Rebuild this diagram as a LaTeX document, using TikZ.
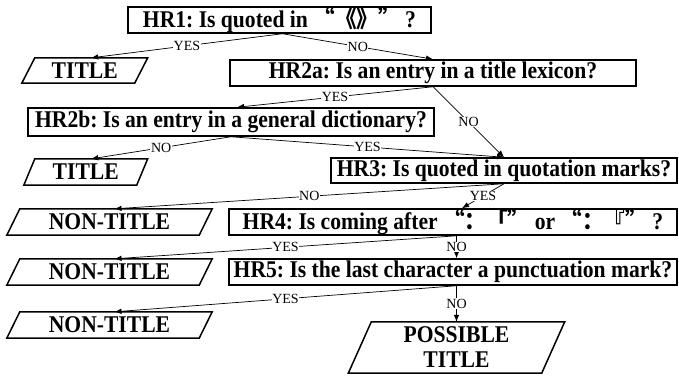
\documentclass[tikz,border=0pt]{standalone}
\usepackage{fontspec}
\setmainfont{Liberation Serif}[FakeStretch=0.9]
\newfontfamily\lblfont{Liberation Serif}
\newfontfamily\cjk{Noto Sans CJK SC}[FakeStretch=0.9]
\usetikzlibrary{arrows.meta,calc}
\frenchspacing
\newcommand\drawpara[2]{\draw[line width=1.5pt] ($(#1.north west)+(#2,0)$) -- ($(#1.north east)+(#2,0)$) -- ($(#1.south east)-(#2,0)$) -- ($(#1.south west)-(#2,0)$) -- cycle;}
\begin{document}
\begin{tikzpicture}[x=1pt,y=-1pt,
  qbox/.style={draw,line width=1.5pt,inner sep=0pt,font=\bfseries\fontsize{24}{26}\selectfont},
  outbox/.style={inner sep=0pt,font=\bfseries\fontsize{24}{25}\selectfont,align=center},
  lbl/.style={fill=white,inner sep=0.6pt,font=\lblfont\fontsize{14}{14}\selectfont},
  arr/.style={-{Latex[length=7pt,width=5.5pt]},line width=0.7pt}]
\useasboundingbox (0,0) rectangle (679,375);
% decision boxes
\node[qbox,minimum width=303pt,minimum height=26pt] (HR1) at (279.5,20) {HR1: Is quoted in {\cjk “《》”} ?};
\node[qbox,minimum width=406pt,minimum height=26pt] (HR2a) at (433,73) {HR2a: Is an entry in a title lexicon?};
\node[qbox,minimum width=406pt,minimum height=28pt] (HR2b) at (231,122) {HR2b: Is an entry in a general dictionary?};
\node[qbox,minimum width=346pt,minimum height=25pt] (HR3) at (504,170.5) {HR3: Is quoted in quotation marks?};
\node[qbox,minimum width=448pt,minimum height=24pt] (HR4) at (453,222) {HR4: Is coming after {\cjk “：「”} or {\cjk “：『”} ?};
\node[qbox,minimum width=448pt,minimum height=26pt] (HR5) at (453,272) {HR5: Is the last character a punctuation mark?};
% outcome parallelograms
\node[outbox,minimum width=112.5pt,minimum height=25pt] (T1) at (84.75,70.5) {TITLE};
\node[outbox,minimum width=112.5pt,minimum height=26pt] (T2) at (85.75,172) {TITLE};
\node[outbox,minimum width=192pt,minimum height=26pt] (N1) at (109.5,222) {NON-TITLE};
\node[outbox,minimum width=192pt,minimum height=26pt] (N2) at (109.5,272) {NON-TITLE};
\node[outbox,minimum width=192pt,minimum height=26pt] (N3) at (109.5,325) {NON-TITLE};
\node[outbox,minimum width=193pt,minimum height=51pt] (P) at (456.5,347.5) {POSSIBLE\\TITLE};
\drawpara{T1}{6.5}
\drawpara{T2}{5.5}
\drawpara{N1}{6.5}
\drawpara{N2}{6.5}
\drawpara{N3}{6.5}
\drawpara{P}{11.5}
\coordinate (T1t) at ($(T1.north)+(6.5,0)$);
\coordinate (T2t) at ($(T2.north)+(5.5,0)$);
\coordinate (N1t) at ($(N1.north)+(5,0)$);
\coordinate (N2t) at ($(N2.north)+(5,0)$);
\coordinate (N3t) at ($(N3.north)+(5,0)$);
\coordinate (HR1s) at ($(HR1.south)+(3,0)$);
\coordinate (HR4s) at ($(HR4.south)+(3.5,0)$);
\coordinate (HR4n) at ($(HR4.north)+(9,0)$);
\coordinate (HR5n) at ($(HR5.north)+(3.5,0)$);
% connectors
\draw[arr] (HR1s) -- node[lbl,midway]{YES} (T1t);
\draw[arr] (HR1s) -- node[lbl,midway]{NO} (HR2a.north);
\draw[arr] (HR2a.south) -- node[lbl,midway]{YES} ($(HR2b.north)+(6,0)$);
\draw[arr] (HR2a.south) -- node[lbl,midway]{NO} (HR3.north);
\draw[arr] (HR2b.south) -- node[lbl,midway]{NO} (T2t);
\draw[arr] (HR2b.south) -- node[lbl,midway]{YES} (HR3.north);
\draw[arr] (HR3.south) -- node[lbl,midway]{NO} (N1t);
\draw[arr] (HR3.south) -- node[lbl,midway]{YES} (HR4n);
\draw[arr] (HR4s) -- node[lbl,midway]{YES} (N2t);
\draw[arr] (HR4s) -- node[lbl,midway]{NO} (HR5n);
\draw[arr] (HR5.south -| HR5n) -- node[lbl,midway]{YES} (N3t);
\draw[arr] (HR5.south -| P.north) -- node[lbl,midway]{NO} (P.north);
\end{tikzpicture}
\end{document}
